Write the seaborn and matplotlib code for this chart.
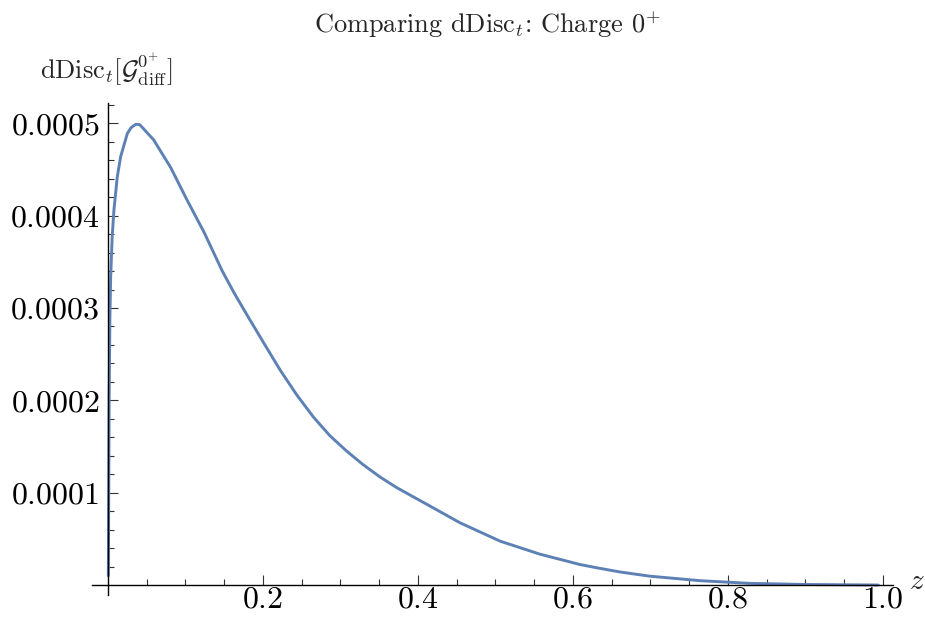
import numpy as np
import pandas as pd
import seaborn as sns
import matplotlib.pyplot as plt
from matplotlib.ticker import FixedLocator

# values
z_vals = [0.0005, 0.0015, 0.0025, 0.0035, 0.0055, 0.0077, 0.012, 0.0164, 0.025,
          0.030, 0.036, 0.041, 0.046, 0.059, 0.081, 0.102, 0.124, 0.1475,
          0.163, 0.179, 0.2004, 0.222, 0.2435, 0.265, 0.286, 0.308, 0.329,
          0.351, 0.3725, 0.394, 0.4155, 0.454, 0.506, 0.557, 0.609, 0.635,
          0.661, 0.699, 0.764, 0.828, 0.90, 0.994]
ddisc_vals = [0.00001, 0.00020, 0.00029, 0.000334, 0.000378, 0.000406, 0.000442,
              0.000464, 0.000489, 0.0004955, 0.000499, 0.0004985, 0.000494,
              0.000482, 0.000452, 0.000417, 0.000382, 0.000340, 0.000316,
              0.000293, 0.000263, 0.000233, 0.000206, 0.000182, 0.000162,
              0.000145, 0.0001305, 0.000117, 0.0001055, 0.0000955, 0.0000855,
              0.0000675, 0.0000475, 0.0000335, 0.0000222, 0.000018, 0.0000141,
              0.0000096, 0.0000047, 0.0000018, 0.0000006, 0.0]

x_ticks = [0.2, 0.4, 0.6, 0.8, 1.0]
x_tick_labels = ['0.2', '0.4', '0.6', '0.8', '1.0']
y_ticks = [0.0001, 0.0002, 0.0003, 0.0004, 0.0005]
y_tick_labels = ['0.0001', '0.0002', '0.0003', '0.0004', '0.0005']

df = pd.DataFrame({'z': z_vals, 'dDisc': ddisc_vals})

sns.set_theme(style='white')
plt.rcParams['font.family'] = ['cmr10', 'DejaVu Serif']
plt.rcParams['mathtext.fontset'] = 'cm'
plt.rcParams['axes.formatter.use_mathtext'] = True

W, H = 925, 619
fig = plt.figure(figsize=(W / 100, H / 100), dpi=100)
ax = fig.add_axes([92 / W, (H - 595) / H, (893 - 92) / W, (595 - 103) / H])

sns.lineplot(data=df, x='z', y='dDisc', ax=ax, color='#5E81B5', linewidth=2.1,
             sort=True, errorbar=None)

ax.set_xlim(-0.0206, 1.0129)
ax.set_ylim(-0.0000108, 0.000522)

for side in ['top', 'right']:
    ax.spines[side].set_visible(False)
ax.spines['left'].set_position(('data', 0))
ax.spines['bottom'].set_position(('data', 0))
for side in ['left', 'bottom']:
    ax.spines[side].set_color('black')
    ax.spines[side].set_linewidth(1.0)

ax.xaxis.set_major_locator(FixedLocator(x_ticks))
ax.xaxis.set_minor_locator(FixedLocator([m / 20 for m in range(1, 21) if m % 4]))
ax.yaxis.set_major_locator(FixedLocator(y_ticks))
ax.yaxis.set_minor_locator(FixedLocator([m * 0.00002 for m in range(1, 27) if m % 5]))
ax.set_xticklabels([f'${t}$' for t in x_tick_labels])
ax.set_yticklabels([f'${t}$' for t in y_tick_labels])

ax.tick_params(which='both', direction='in', color='#333333', width=0.8,
               labelsize=23, labelcolor='black', left=True, bottom=True)
ax.tick_params(which='major', length=7)
ax.tick_params(which='minor', length=4)
ax.tick_params(axis='y', pad=6)
ax.tick_params(axis='x', pad=1)

ax.set_xlabel('')
ax.set_ylabel('')

fig.text(487 / W, 1 - 25 / H, r'Comparing dDisc$_t$: Charge $0^{+}$',
         ha='center', va='center', fontsize=19)
fig.text(40 / W, 1 - 70 / H, r'$\mathrm{dDisc}_t[\mathcal{G}^{0^{+}}_{\mathrm{diff}}]$',
         ha='left', va='center', fontsize=19)
fig.text(917 / W, 1 - 582 / H, r'$z$', ha='center', va='center', fontsize=21)

fig.savefig('out.png', dpi=100)
